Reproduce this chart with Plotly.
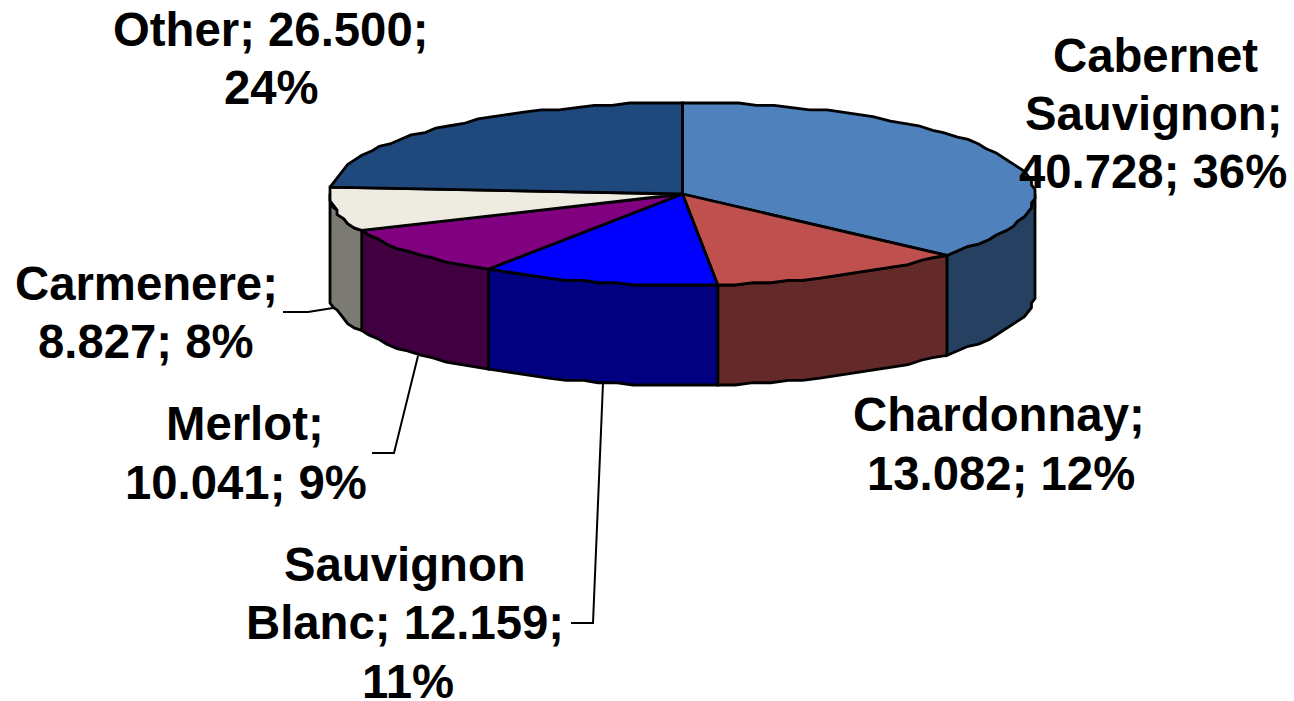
import numpy as np
import plotly.graph_objects as go

categories = ["Cabernet Sauvignon", "Chardonnay", "Sauvignon Blanc", "Merlot", "Carmenere", "Other"]
values = [40.728, 13.082, 12.159, 10.041, 8.827, 26.500]
top_colors = ["#4F81BD", "#C0504D", "#0000FF", "#800080", "#EEECE1", "#1F497D"]
side_colors = ["#254061", "#632A29", "#000080", "#400040", "#7B7B73", "#10253F"]

label_lines = [
    ("Cabernet", 1155, 55), ("Sauvignon;", 1154, 113), ("40.728; 36%", 1153, 171),
    ("Chardonnay;", 999, 414), ("13.082; 12%", 1001, 473),
    ("Sauvignon", 405, 564), ("Blanc; 12.159;", 405, 622), ("11%", 408, 681),
    ("Merlot;", 245, 423), ("10.041; 9%", 246, 482),
    ("Carmenere;", 146, 283), ("8.827; 8%", 146, 341),
    ("Other; 26.500;", 270, 29), ("24%", 271, 87),
]
leaders = [
    ([283, 308, 333], [312, 312, 308]),
    ([372, 394, 418], [453, 453, 356]),
    ([571, 593, 603], [623, 623, 383]),
]

CX, CY, RX, RY, DEPTH = 682.5, 194.0, 352.5, 91.0, 100.0
STEP = 3.0
GRID_X, GRID_Y = RX / 100, RY / 40


def arc(a0, a1):
    n = max(2, int(np.ceil((a1 - a0) / STEP)) + 1)
    t = np.radians(np.linspace(a0, a1, n))
    x = np.round(RX * np.sin(t) / GRID_X) * GRID_X
    y = np.round(RY * np.cos(t) / GRID_Y) * GRID_Y
    return CX + x, CY - y


edges = np.concatenate([[0], np.cumsum(values)]) / np.sum(values) * 360.0
fig = go.Figure()
LINE = dict(color="black", width=2.8)

# Outer walls (only the front half of the cylinder is visible)
for i, name in enumerate(categories):
    a0, a1 = max(edges[i], 90), min(edges[i + 1], 270)
    if a1 <= a0:
        continue
    x, y = arc(a0, a1)
    fig.add_trace(go.Scatter(
        x=np.concatenate([x, x[::-1], x[:1]]),
        y=np.concatenate([y, y[::-1] + DEPTH, y[:1]]),
        mode="lines", fill="toself", fillcolor=side_colors[i], line=LINE,
        hoverinfo="skip", showlegend=False, name=name + " side"))

# Top face wedges
for i, name in enumerate(categories):
    x, y = arc(edges[i], edges[i + 1])
    fig.add_trace(go.Scatter(
        x=np.concatenate([[CX], x, [CX]]),
        y=np.concatenate([[CY], y, [CY]]),
        mode="lines", fill="toself", fillcolor=top_colors[i], line=LINE,
        hoverinfo="skip", showlegend=False, name=name))

for lx, ly in leaders:
    fig.add_trace(go.Scatter(x=lx, y=ly, mode="lines",
                             line=dict(color="black", width=2),
                             hoverinfo="skip", showlegend=False))

for text, x, y in label_lines:
    fig.add_annotation(x=x, y=y, xref="x", yref="y", text="<b>" + text + "</b>", showarrow=False,
                       xanchor="center", yanchor="middle",
                       height=40 if text == "11%" else None,
                       font=dict(family="Liberation Sans", size=47.3, color="black"))

fig.update_layout(
    width=1294, height=701, margin=dict(l=0, r=0, t=0, b=0),
    paper_bgcolor="white", plot_bgcolor="white",
    xaxis=dict(range=[0, 1294], visible=False, fixedrange=True),
    yaxis=dict(range=[701, 0], visible=False, fixedrange=True),
)
fig.write_html("out.html", config=dict(displayModeBar=False),
               post_script="document.body.style.margin='0';document.body.style.overflow='hidden';")
